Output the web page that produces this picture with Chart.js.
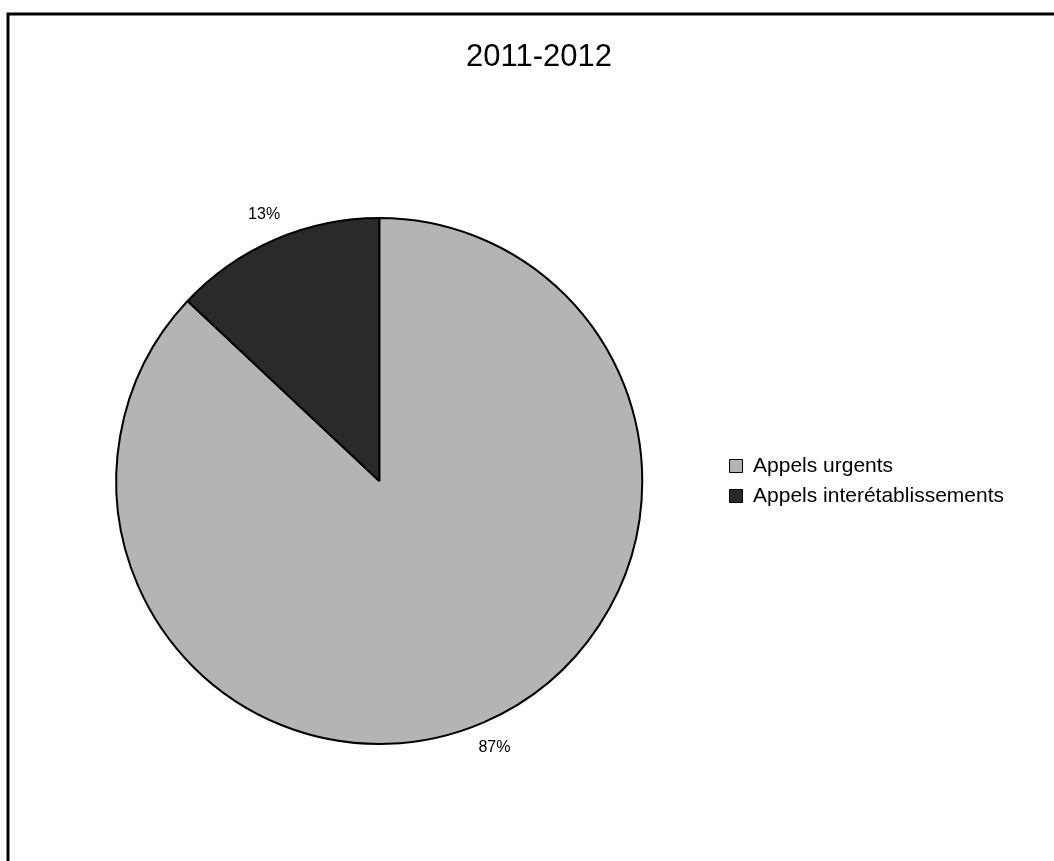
<!DOCTYPE html>
<html>
<head>
<meta charset="utf-8">
<script src="https://cdn.jsdelivr.net/npm/chart.js@4/dist/chart.umd.min.js"></script>
<style>
  html, body { margin: 0; padding: 0; background: #fff; }
  #wrap { width: 1054px; height: 861px; }
</style>
</head>
<body>
<div id="wrap"><canvas id="graficoCanvas"></canvas></div>
<script>
const titre = '2011-2012';
const categories = ['Appels urgents', 'Appels interétablissements'];
const valeurs = [87, 13];
const etiquettes = ['87%', '13%'];
const couleurs = ['#b4b4b4', '#2a2a2a'];

// cadre (bord gauche et haut) + titre
const cadrePlugin = {
    id: 'cadre',
    afterDraw(chart) {
        const ctx = chart.ctx;
        ctx.save();
        ctx.strokeStyle = '#000';
        ctx.lineWidth = 3;
        ctx.beginPath();
        ctx.moveTo(8, chart.height);
        ctx.lineTo(8, 14);
        ctx.lineTo(chart.width, 14);
        ctx.stroke();
        ctx.fillStyle = '#000';
        ctx.font = '31px Arial, "Liberation Sans", sans-serif';
        ctx.textAlign = 'center';
        ctx.textBaseline = 'middle';
        ctx.fillText(titre, 539, 57);
        ctx.restore();
    }
};

// pourcentages à l'extérieur de chaque part
const etiquettesPlugin = {
    id: 'etiquettes',
    afterDatasetsDraw(chart) {
        const ctx = chart.ctx;
        const meta = chart.getDatasetMeta(0);
        ctx.save();
        ctx.fillStyle = '#000';
        ctx.font = '16px Arial, "Liberation Sans", sans-serif';
        ctx.textAlign = 'center';
        ctx.textBaseline = 'middle';
        meta.data.forEach((arc, i) => {
            const p = arc.getProps(['x', 'y', 'startAngle', 'endAngle', 'outerRadius'], true);
            const mid = (p.startAngle + p.endAngle) / 2;
            const r = p.outerRadius + 27;
            ctx.fillText(etiquettes[i], p.x + Math.cos(mid) * r, p.y + Math.sin(mid) * r);
        });
        ctx.restore();
    }
};

const ctx = document.getElementById('graficoCanvas').getContext('2d');
new Chart(ctx, {
    type: 'pie',
    data: {
        labels: categories,
        datasets: [{
            data: valeurs,
            backgroundColor: couleurs,
            borderColor: '#000',
            borderWidth: 2
        }]
    },
    options: {
        responsive: true,
        maintainAspectRatio: false,
        animation: false,
        layout: {
            padding: { left: 38, right: 40, top: 217, bottom: 116 }
        },
        plugins: {
            title: { display: false },
            tooltip: { enabled: false },
            legend: {
                position: 'right',
                labels: {
                    boxWidth: 13,
                    boxHeight: 13,
                    padding: 9,
                    color: '#000',
                    font: { family: 'Arial, "Liberation Sans", sans-serif', size: 21 },
                    generateLabels(chart) {
                        return chart.data.labels.map((l, i) => ({
                            text: l,
                            fillStyle: couleurs[i],
                            strokeStyle: '#000',
                            lineWidth: 1,
                            index: i
                        }));
                    }
                }
            }
        }
    },
    plugins: [cadrePlugin, etiquettesPlugin]
});
</script>
</body>
</html>
